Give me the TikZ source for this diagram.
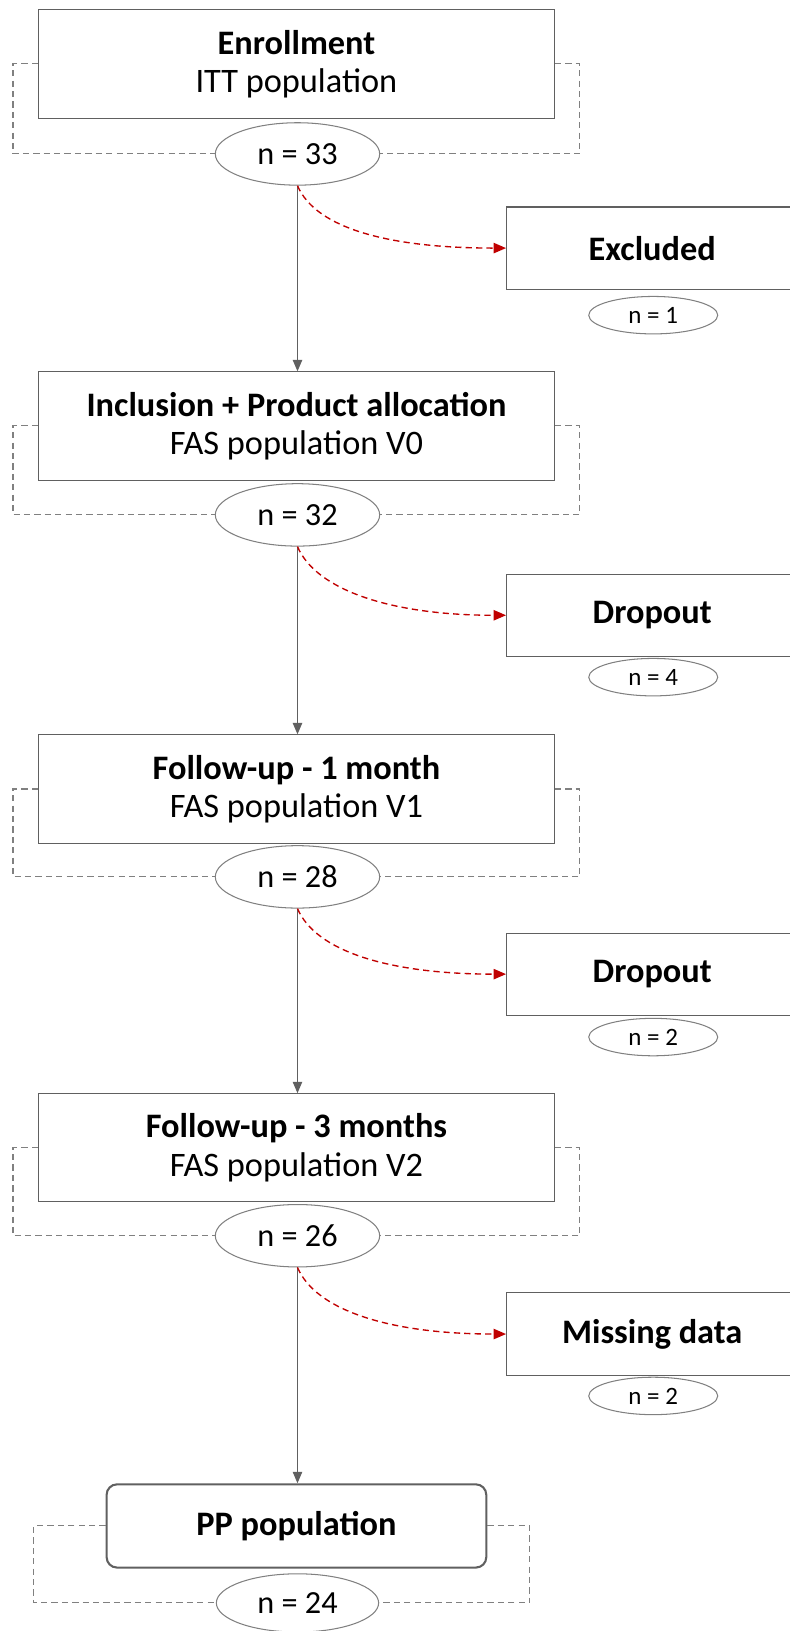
\documentclass[tikz,border=0pt]{standalone}
\usepackage{fontspec}
\setmainfont{Carlito}
\usetikzlibrary{arrows.meta,shapes.geometric}
\definecolor{linegray}{HTML}{606060}
\definecolor{dashgray}{HTML}{808080}
\definecolor{redarrow}{HTML}{C00000}
\tikzset{
  mainbox/.style={draw=linegray, line width=1pt, minimum width=496pt, minimum height=104pt, align=center, inner sep=0pt, font=\fontsize{33}{37}\selectfont},
  sidebox/.style={draw=linegray, line width=1pt, minimum width=280pt, minimum height=79pt, inner sep=0pt, font=\fontsize{33}{37}\selectfont\bfseries},
  ppbox/.style={draw=linegray, line width=2pt, rounded corners=10pt, minimum width=365pt, minimum height=80pt, inner sep=0pt, font=\fontsize{33}{37}\selectfont\bfseries},
  bigell/.style={draw=dashgray, line width=1pt, ellipse, minimum width=158pt, minimum height=60pt, inner sep=0pt, fill=white, font=\fontsize{31}{34}\selectfont},
  smallell/.style={draw=dashgray, line width=1pt, ellipse, minimum width=124pt, minimum height=36pt, inner sep=0pt, font=\fontsize{24}{26}\selectfont},
  flow/.style={draw=linegray, line width=1.3pt, -{Triangle[length=11pt,width=9pt]}},
  redflow/.style={draw=redarrow, line width=1.3pt, dash pattern=on 6pt off 4pt, -{Triangle[length=12pt,width=10pt]}},
  bracket/.style={draw=dashgray, line width=1pt, dash pattern=on 6pt off 4pt},
}
\begin{document}
\begin{tikzpicture}[x=1pt,y=1pt]
\useasboundingbox (0,0) rectangle (759,-1568);

% main boxes
\node[mainbox] (enr) at (285,-61.5) {\textbf{Enrollment}\\ITT population};
\node[mainbox] (inc) at (285,-409.5) {\textbf{Inclusion + Product allocation}\\FAS population V0};
\node[mainbox] (fu1) at (285,-758.5) {\textbf{Follow-up - 1 month}\\FAS population V1};
\node[mainbox] (fu3) at (285,-1103.5) {\textbf{Follow-up - 3 months}\\FAS population V2};
\node[ppbox] (pp) at (285,-1467) {PP population};

% big ellipses
\node[bigell] (n33) at (286,-148) {n = 33};
\node[bigell] (n32) at (286,-495) {n = 32};
\node[bigell] (n28) at (286,-843) {n = 28};
\node[bigell] (n26) at (286,-1188) {n = 26};
\node[bigell, minimum width=156pt, minimum height=56pt] (n24) at (286,-1541) {n = 24};

% side boxes
\node[sidebox] (exc) at (627,-238.5) {Excluded};
\node[sidebox] (dr1) at (627,-591.5) {Dropout};
\node[sidebox] (dr2) at (627,-936.5) {Dropout};
\node[sidebox] (mis) at (627,-1282.5) {Missing data};
\node[smallell] (n1) at (628,-303) {n = 1};
\node[smallell] (n4) at (628,-651) {n = 4};
\node[smallell] (n2a) at (628,-997) {n = 2};
\node[smallell] (n2b) at (628,-1342) {n = 2};

% brackets
\foreach \b/\e in {enr/n33, inc/n32, fu1/n28, fu3/n26}{
  \draw[bracket] (\b.west) -- ++(-24,0) |- (\e.west);
  \draw[bracket] (\b.east) -- ++(24,0) |- (\e.east);
}
\draw[bracket] (pp.west) -- ++(-69,0) |- (n24.west);
\draw[bracket] (pp.east) -- ++(41,0) |- (n24.east);

% vertical flow
\draw[flow] (n33.south) -- (n33.south |- inc.north);
\draw[flow] (n32.south) -- (n32.south |- fu1.north);
\draw[flow] (n28.south) -- (n28.south |- fu3.north);
\draw[flow] (n26.south) -- (n26.south |- pp.north);

% red curved arrows
\draw[redflow] (n33.south) .. controls +(18,-42) and +(-110,0) .. (exc.west);
\draw[redflow] (n32.south) .. controls +(18,-42) and +(-110,0) .. (dr1.west);
\draw[redflow] (n28.south) .. controls +(18,-42) and +(-110,0) .. (dr2.west);
\draw[redflow] (n26.south) .. controls +(18,-42) and +(-110,0) .. (mis.west);
\end{tikzpicture}
\end{document}
